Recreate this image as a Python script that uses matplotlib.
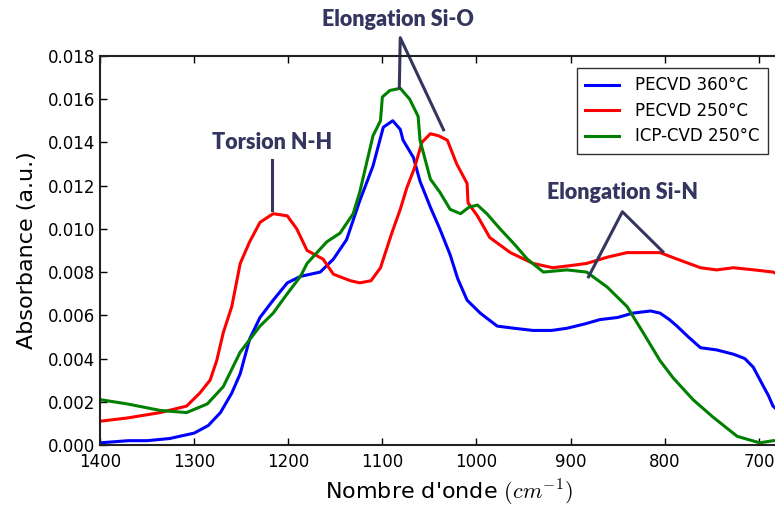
import matplotlib
matplotlib.use('Agg')
import matplotlib.pyplot as plt

# Spectra (wavenumber in cm-1, absorbance)
x_360 = [1400, 1370, 1350, 1326, 1300, 1285, 1272, 1260, 1251, 1241, 1230, 1216, 1201, 1187,
         1166, 1152, 1138, 1131, 1124, 1110, 1099, 1089, 1081, 1078, 1067, 1060, 1049, 1039,
         1028, 1020, 1010, 996, 978, 960, 940, 920, 904, 885, 869, 850, 834, 815, 805, 795,
         787, 775, 762, 745, 727, 715, 706, 695, 690, 685, 680]
y_360 = [0.0001, 0.0002, 0.0002, 0.0003, 0.00055, 0.0009, 0.0015, 0.0024, 0.0033, 0.0049,
         0.0059, 0.0067, 0.0075, 0.0078, 0.0080, 0.0086, 0.0095, 0.0104, 0.0113, 0.0129,
         0.0147, 0.0150, 0.0146, 0.0141, 0.0133, 0.0122, 0.0110, 0.0100, 0.0088, 0.0077,
         0.0067, 0.0061, 0.0055, 0.0054, 0.0053, 0.0053, 0.0054, 0.0056, 0.0058, 0.0059,
         0.0061, 0.0062, 0.0061, 0.0058, 0.0055, 0.0050, 0.0045, 0.0044, 0.0042, 0.0040,
         0.0036, 0.0027, 0.0023, 0.0018, 0.0016]

x_250 = [1400, 1371, 1336, 1308, 1294, 1283, 1276, 1269, 1260, 1251, 1241, 1230, 1216, 1201,
         1191, 1180, 1163, 1152, 1134, 1124, 1112, 1102, 1090, 1081, 1074, 1066, 1058, 1049,
         1040, 1031, 1021, 1010, 1009, 999, 986, 964, 940, 919, 900, 883, 860, 840, 820, 805,
         787, 762, 745, 727, 705, 685, 680]
y_250 = [0.0011, 0.00125, 0.0015, 0.0018, 0.0024, 0.0030, 0.0039, 0.0052, 0.0064, 0.0084,
         0.0094, 0.0103, 0.0107, 0.0106, 0.0100, 0.0090, 0.0086, 0.0079, 0.0076, 0.0075,
         0.0076, 0.0082, 0.0098, 0.0109, 0.0119, 0.0128, 0.0140, 0.0144, 0.0143, 0.0141,
         0.0130, 0.0121, 0.0112, 0.0106, 0.0096, 0.0089, 0.0084, 0.0082, 0.0083, 0.0084,
         0.0087, 0.0089, 0.0089, 0.0089, 0.0086, 0.0082, 0.0081, 0.0082, 0.0081, 0.0080,
         0.0079]

x_icp = [1400, 1371, 1336, 1308, 1286, 1269, 1251, 1230, 1216, 1201, 1187, 1180, 1159, 1145,
         1131, 1124, 1110, 1102, 1100, 1092, 1081, 1071, 1062, 1060, 1049, 1039, 1028, 1017,
         1008, 999, 989, 975, 960, 946, 929, 904, 883, 861, 840, 823, 805, 791, 770, 749,
         723, 699, 685, 680]
y_icp = [0.0021, 0.0019, 0.0016, 0.0015, 0.0019, 0.0027, 0.0043, 0.0055, 0.0061, 0.0070,
         0.0078, 0.0084, 0.0094, 0.0098, 0.0107, 0.0117, 0.0143, 0.0150, 0.0161, 0.0164,
         0.0165, 0.0160, 0.0152, 0.0141, 0.0123, 0.0117, 0.0109, 0.0107, 0.0110, 0.0111,
         0.0107, 0.0100, 0.0093, 0.0086, 0.0080, 0.0081, 0.0080, 0.0073, 0.0064, 0.0052,
         0.0039, 0.0031, 0.0021, 0.0013, 0.0004, 0.0001, 0.0002, 0.0002]

labels = ['PECVD 360°C', 'PECVD 250°C', 'ICP-CVD 250°C']
colors = ['b', 'r', 'g']

plt.rcParams['mathtext.fontset'] = 'cm'

fig = plt.figure(figsize=(7.75, 5.08), dpi=100)
ax = fig.add_axes([0.129, 0.124, 0.9, 0.766])

for xs, ys, lab, c in zip([x_360, x_250, x_icp], [y_360, y_250, y_icp], labels, colors):
    ax.plot(xs, ys, color=c, lw=2.2, label=lab)

ax.set_xlim(1400, 659)
ax.set_ylim(0, 0.018)
ax.set_xticks([1400, 1300, 1200, 1100, 1000, 900, 800, 700])
ax.set_yticks([i * 0.002 for i in range(10)])
ax.yaxis.set_major_formatter(matplotlib.ticker.FormatStrFormatter('%.3f'))
ax.tick_params(direction='in', top=True, right=True, labelsize=12, length=5, width=1)
ax.tick_params(axis='x', pad=6)
for s in ax.spines.values():
    s.set_linewidth(1.5)
    s.set_color('#222222')

ax.set_xlabel("Nombre d'onde $(cm^{-1})$", fontsize=16, labelpad=5)
ax.set_ylabel('Absorbance (a.u.)', fontsize=16, labelpad=8)

leg = ax.legend(loc='upper right', bbox_to_anchor=(0.97, 0.99), fontsize=12,
                fancybox=False, handlelength=2.0, borderpad=0.5, labelspacing=0.45,
                handletextpad=1.0)
leg.get_frame().set_edgecolor('black')
leg.get_frame().set_linewidth(1.0)

# peak annotations
navy = '#35365f'
ann_font = dict(fontsize=15.5, fontweight='heavy', color=navy, family='Lato',
                ha='center', va='center')

ax.plot([1217, 1217], [0.0132, 0.01088], color=navy, lw=2.2, clip_on=False)
ax.text(1217, 0.0140, 'Torsion N-H', **ann_font)

ax.plot([1082, 1081, 1035], [0.01653, 0.01884, 0.01458], color=navy, lw=2.2, clip_on=False)
ax.text(1083, 0.01968, 'Elongation Si-O', clip_on=False, **ann_font)

ax.plot([881, 845, 802], [0.00778, 0.01079, 0.00894], color=navy, lw=2.2, clip_on=False)
ax.text(845, 0.01167, 'Elongation Si-N', **ann_font)

fig.savefig('out.png', dpi=100)
